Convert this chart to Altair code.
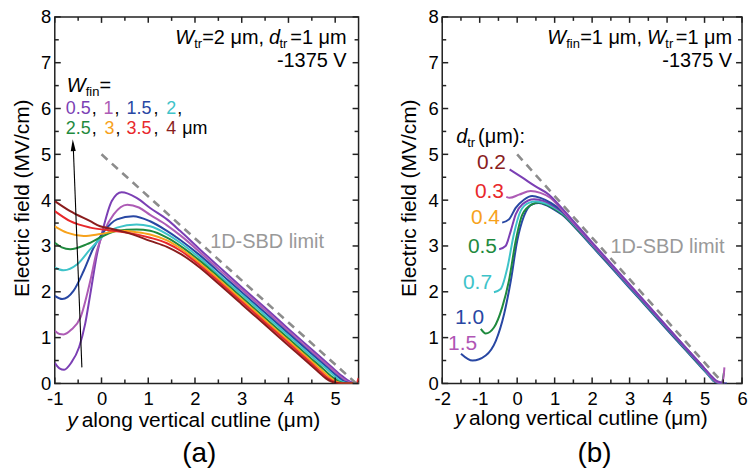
import altair as alt
import pandas as pd

FONT = "Liberation Sans"

# ---------------- Panel (a): W_fin sweep ----------------
wfin_labels = ["0.5", "1", "1.5", "2", "2.5", "3", "3.5", "4"]
wfin_colors = ["#7b3fb4", "#ad5bb5", "#2847a3", "#3ec3c9", "#1f8a3e", "#f7a21c", "#e8282b", "#8a1d1d"]

a05_x = [-1.0, -0.9, -0.8, -0.65, -0.48, -0.35, -0.24, -0.1, 0.04, 0.22, 0.43, 0.75, 1.04, 1.4, 1.68, 2.1, 2.5, 3.0, 3.5, 4.0, 4.5, 4.9, 5.15, 5.3, 5.45, 5.5]
a05_y = [0.45, 0.33, 0.30, 0.45, 0.79, 1.3, 1.95, 2.8, 3.4, 3.98, 4.17, 4.05, 3.83, 3.58, 3.33, 2.93, 2.56, 2.1, 1.65, 1.19, 0.74, 0.38, 0.16, 0.05, 0.0, 0.0]
a10_x = [-1.0, -0.9, -0.81, -0.65, -0.45, -0.24, -0.1, 0.04, 0.26, 0.55, 0.8, 1.04, 1.4, 1.7, 2.1, 2.5, 3.0, 3.5, 4.0, 4.5, 4.9, 5.12, 5.26, 5.42, 5.5]
a10_y = [1.15, 1.08, 1.07, 1.17, 1.44, 2.24, 2.89, 3.29, 3.69, 3.9, 3.84, 3.68, 3.45, 3.22, 2.87, 2.5, 2.05, 1.6, 1.14, 0.69, 0.34, 0.14, 0.04, 0.0, 0.0]
a15_x = [-1.0, -0.84, -0.6, -0.38, -0.17, 0.04, 0.33, 0.68, 1.04, 1.4, 1.7, 2.1, 2.5, 3.0, 3.5, 4.0, 4.5, 4.85, 5.08, 5.2, 5.38, 5.5]
a15_y = [1.91, 1.84, 2.02, 2.46, 2.96, 3.3, 3.58, 3.65, 3.54, 3.33, 3.12, 2.8, 2.44, 1.99, 1.54, 1.09, 0.64, 0.33, 0.13, 0.04, 0.0, 0.0]
a20_x = [-1.0, -0.81, -0.52, -0.24, 0.04, 0.33, 0.75, 1.04, 1.4, 1.7, 2.1, 2.5, 3.0, 3.5, 4.0, 4.5, 4.8, 5.02, 5.14, 5.32, 5.5]
a20_y = [2.53, 2.47, 2.6, 2.93, 3.22, 3.4, 3.47, 3.43, 3.26, 3.06, 2.74, 2.38, 1.94, 1.49, 1.04, 0.59, 0.33, 0.13, 0.04, 0.0, 0.0]
a25_x = [-1.0, -0.85, -0.67, -0.31, 0.04, 0.33, 0.75, 1.04, 1.4, 1.7, 2.1, 2.5, 3.0, 3.5, 4.0, 4.5, 4.75, 4.96, 5.08, 5.26, 5.5]
a25_y = [3.07, 2.97, 2.93, 3.04, 3.22, 3.33, 3.36, 3.33, 3.18, 2.99, 2.68, 2.33, 1.88, 1.43, 0.98, 0.53, 0.31, 0.12, 0.04, 0.0, 0.0]
a30_x = [-1.0, -0.74, -0.38, -0.03, 0.4, 0.75, 1.04, 1.4, 1.7, 2.1, 2.5, 3.0, 3.5, 4.0, 4.5, 4.7, 4.9, 5.02, 5.2, 5.5]
a30_y = [3.43, 3.29, 3.22, 3.26, 3.33, 3.3, 3.25, 3.12, 2.94, 2.63, 2.28, 1.83, 1.38, 0.93, 0.48, 0.3, 0.12, 0.04, 0.0, 0.0]
a35_x = [-1.0, -0.67, -0.24, 0.19, 0.61, 1.04, 1.4, 1.7, 2.1, 2.5, 3.0, 3.5, 4.0, 4.5, 4.65, 4.85, 4.97, 5.15, 5.45, 5.5]
a35_y = [3.76, 3.54, 3.4, 3.34, 3.28, 3.18, 3.06, 2.89, 2.58, 2.23, 1.78, 1.33, 0.88, 0.43, 0.29, 0.11, 0.04, 0.0, 0.0, 0.12]
a40_x = [-1.0, -0.67, -0.24, -0.03, 0.19, 0.61, 1.04, 1.4, 1.7, 2.1, 2.5, 3.0, 3.5, 4.0, 4.5, 4.62, 4.8, 4.92, 5.1, 5.5]
a40_y = [3.98, 3.76, 3.54, 3.43, 3.38, 3.27, 3.11, 2.98, 2.82, 2.53, 2.18, 1.73, 1.28, 0.83, 0.38, 0.27, 0.11, 0.04, 0.0, 0.0]

a_limit_x = [0.0, 5.45]
a_limit_y = [5.0, 0.0]
arrow_x = [-0.42, -0.602]
arrow_y = [0.35, 5.1]
arrow_head_x = [-0.61]
arrow_head_y = [5.2]

# ---------------- Panel (b): d_tr sweep ----------------
dtr_labels = ["0.2", "0.3", "0.4", "0.5", "0.7", "1.0", "1.5"]
dtr_colors = ["#8a1d1d", "#e8282b", "#f7a21c", "#1f8a3e", "#3ec3c9", "#2847a3", "#b056b5"]

b02_x = [-0.2, 0.14, 0.49, 0.85, 1.2, 1.6, 2.0, 2.5, 3.0, 3.5, 4.0, 4.5, 4.9, 5.15, 5.3, 5.45, 5.55]
b02_y = [4.67, 4.49, 4.3, 4.12, 3.82, 3.45, 3.08, 2.62, 2.16, 1.7, 1.24, 0.78, 0.42, 0.19, 0.07, 0.02, 0.0]
b03_x = [-0.29, -0.2, 0.05, 0.36, 0.62, 0.89, 1.2, 1.6, 2.0, 2.5, 3.0, 3.5, 4.0, 4.5, 4.9, 5.12, 5.28, 5.45, 5.5, 5.53]
b03_y = [4.07, 4.05, 4.12, 4.2, 4.16, 4.05, 3.78, 3.42, 3.05, 2.6, 2.14, 1.69, 1.23, 0.78, 0.42, 0.2, 0.06, 0.0, 0.1, 0.35]
b04_x = [-0.4, -0.22, -0.04, 0.18, 0.4, 0.62, 0.9, 1.2, 1.6, 2.0, 2.5, 3.0, 3.5, 4.0, 4.5, 4.9, 5.12, 5.27, 5.45]
b04_y = [3.51, 3.58, 3.83, 4.01, 4.09, 4.05, 3.94, 3.76, 3.41, 3.04, 2.59, 2.13, 1.68, 1.22, 0.77, 0.41, 0.2, 0.06, 0.0]
b05_x = [-0.48, -0.31, -0.17, -0.04, 0.14, 0.45, 0.72, 1.0, 1.2, 1.6, 2.0, 2.5, 3.0, 3.5, 4.0, 4.5, 4.9, 5.12, 5.26, 5.45]
b05_y = [2.93, 3.0, 3.33, 3.69, 3.91, 4.02, 3.98, 3.86, 3.74, 3.4, 3.03, 2.58, 2.12, 1.67, 1.21, 0.76, 0.4, 0.2, 0.06, 0.0]
b07_x = [-0.62, -0.44, -0.26, -0.09, 0.09, 0.31, 0.5, 0.75, 1.0, 1.2, 1.6, 2.0, 2.5, 3.0, 3.5, 4.0, 4.5, 4.9, 5.1, 5.25, 5.45]
b07_y = [1.99, 2.06, 2.53, 3.25, 3.76, 3.94, 3.97, 3.93, 3.83, 3.72, 3.39, 3.02, 2.57, 2.11, 1.66, 1.2, 0.75, 0.39, 0.2, 0.06, 0.0]
b10_x = [-0.97, -0.84, -0.62, -0.4, -0.22, -0.04, 0.14, 0.4, 0.55, 0.8, 1.0, 1.2, 1.6, 2.0, 2.5, 3.0, 3.5, 4.0, 4.5, 4.9, 5.1, 5.24, 5.45, 5.52]
b10_y = [1.19, 1.09, 1.22, 1.66, 2.24, 3.11, 3.69, 3.91, 3.95, 3.9, 3.81, 3.7, 3.37, 3.01, 2.56, 2.1, 1.65, 1.19, 0.74, 0.38, 0.2, 0.06, 0.0, 0.25]
b15_x = [-1.5, -1.19, -0.84, -0.57, -0.35, -0.17, 0.0, 0.18, 0.4, 0.58, 0.8, 1.0, 1.2, 1.6, 2.0, 2.5, 3.0, 3.5, 4.0, 4.5, 4.9, 5.1, 5.23, 5.4, 5.6]
b15_y = [0.65, 0.5, 0.61, 0.93, 1.51, 2.24, 3.11, 3.65, 3.91, 3.94, 3.88, 3.79, 3.68, 3.35, 2.99, 2.54, 2.08, 1.63, 1.17, 0.72, 0.36, 0.18, 0.06, 0.0, 0.0]

b_limit_x = [0.0, 5.5]
b_limit_y = [5.0, 0.0]

a_xlabels = [-1, 0, 1, 2, 3, 4, 5]
a_xminor = [-0.5, 0.5, 1.5, 2.5, 3.5, 4.5]
b_xlabels = [-2, -1, 0, 1, 2, 3, 4, 5, 6]
b_xminor = [-1.5, -0.5, 0.5, 1.5, 2.5, 3.5, 4.5, 5.5]
ylabels = [0, 1, 2, 3, 4, 5, 6, 7, 8]
yminor = [0.5, 1.5, 2.5, 3.5, 4.5, 5.5, 6.5, 7.5]

# ---------------- layout constants ----------------
H = 368
WA, WB = 305, 301
OA = (54, 15)     # page position of panel (a) plot origin
OB = (443, 15)    # page position of panel (b) plot origin
FRAME = "#222222"
YDOM = [0, 8]

dummy = pd.DataFrame({"d": [0]})


def series_df(items):
    rows = []
    for name, xv, yv in items:
        for x, y in zip(xv, yv):
            rows.append({"series": name, "x": x, "y": y})
    return pd.DataFrame(rows)


def txt(s, px, py, origin, size=20, color="black", style=None, align="left",
        baseline="alphabetic", angle=None):
    kw = dict(text=s, fontSize=size, color=color, align=align, baseline=baseline, font=FONT)
    if style:
        kw["fontStyle"] = style
    if angle is not None:
        kw["angle"] = angle
    return alt.Chart(dummy).mark_text(**kw).encode(
        x=alt.value(px - origin[0]), y=alt.value(py - origin[1]))


def make_axes(xvals):
    xa = alt.Axis(values=xvals, title=None, ticks=False, domain=False, grid=False,
                  labelFontSize=18.5, labelFont=FONT, labelColor="black", labelPadding=6,
                  labelFlush=False, labelOverlap=False,
                  labelExpr="replace(datum.label, '\u2212', '-')")
    ya = alt.Axis(values=ylabels, title=None, ticks=False, domain=False, grid=False,
                  labelFontSize=18.5, labelFont=FONT, labelColor="black", labelPadding=4,
                  labelFlush=False, labelOverlap=False)
    return xa, ya


def build_panel(df, names, colors, xdom, xlab, xmin, lim_x, lim_y, W, origin, texts, extra_data, box):
    xsc = alt.Scale(domain=xdom, nice=False, zero=False)
    ysc = alt.Scale(domain=YDOM, nice=False, zero=False)
    xa, ya = make_axes(xlab)

    def X(f):
        return alt.X(f, scale=xsc, axis=xa)

    def Y(f):
        return alt.Y(f, scale=ysc, axis=ya)

    lines = alt.Chart(df).mark_line(strokeWidth=2, interpolate="monotone", clip=True).encode(
        x=X("x:Q"), y=Y("y:Q"),
        color=alt.Color("series:N", scale=alt.Scale(domain=names, range=colors), legend=None),
        detail="series:N",
    )
    limit = alt.Chart(pd.DataFrame({"x": lim_x, "y": lim_y})).mark_line(
        color="#8c8c8c", strokeWidth=2.6, strokeDash=[8, 6], clip=True).encode(x=X("x:Q"), y=Y("y:Q"))
    bound = alt.Chart(dummy).mark_rect(opacity=0).encode(
        x=alt.value(box[0]), x2=alt.value(box[1]), y=alt.value(-origin[1]), y2=alt.value(H + 92))

    # inward ticks on all four sides, drawn as rules through the scales
    ypx = (YDOM[1] - YDOM[0]) / H
    xpx = (xdom[1] - xdom[0]) / W
    xt = []
    for vals, L in ((xlab, 6), (xmin, 4)):
        for v in vals:
            xt.append({"v": v, "a": YDOM[0], "b": YDOM[0] + L * ypx})
            xt.append({"v": v, "a": YDOM[1], "b": YDOM[1] - L * ypx})
    yt = []
    for vals, L in ((ylabels, 6), (yminor, 4)):
        for v in vals:
            yt.append({"v": v, "a": xdom[0], "b": xdom[0] + L * xpx})
            yt.append({"v": v, "a": xdom[1], "b": xdom[1] - L * xpx})
    xticks = alt.Chart(pd.DataFrame(xt)).mark_rule(color=FRAME, strokeWidth=1.5).encode(
        x=X("v:Q"), y=Y("a:Q"), y2="b:Q")
    yticks = alt.Chart(pd.DataFrame(yt)).mark_rule(color=FRAME, strokeWidth=1.5).encode(
        y=Y("v:Q"), x=X("a:Q"), x2="b:Q")

    extra = []
    if extra_data is not None:
        (ax, ay), (hx, hy) = extra_data
        extra.append(alt.Chart(pd.DataFrame({"x": ax, "y": ay})).mark_line(
            color="black", strokeWidth=1.1).encode(x=X("x:Q"), y=Y("y:Q")))
        extra.append(alt.Chart(pd.DataFrame({"x": hx, "y": hy})).mark_point(
            shape="M0,-1L0.42,1L-0.42,1Z", filled=True, color="black", opacity=1,
            size=144, angle=357.8).encode(x=X("x:Q"), y=Y("y:Q")))

    layers = [bound, lines, limit] + extra + [xticks, yticks] + texts
    return alt.layer(*layers).properties(width=W, height=H)


# ---------------- panel (a) ----------------
df_a = series_df([
    ("0.5", a05_x, a05_y), ("1", a10_x, a10_y), ("1.5", a15_x, a15_y), ("2", a20_x, a20_y),
    ("2.5", a25_x, a25_y), ("3", a30_x, a30_y), ("3.5", a35_x, a35_y), ("4", a40_x, a40_y),
])

C = dict(zip(wfin_labels, wfin_colors))
texts_a = [
    txt("W", 175, 42, OA, style="italic"),
    txt("tr", 194, 46, OA, size=13),
    txt("=2 \u03bcm,", 202, 42, OA),
    txt("d", 269, 42, OA, style="italic"),
    txt("tr", 279.5, 46, OA, size=13),
    txt("=1 \u03bcm", 347, 42, OA, align="right"),
    txt("-1375 V", 347, 65, OA, align="right"),
    txt("W", 66, 90, OA, style="italic"),
    txt("fin", 85, 94, OA, size=13),
    txt("=", 99, 90, OA),
    txt("0.5", 65, 112, OA, size=18, color=C["0.5"]),
    txt(",", 91, 112, OA, size=18),
    txt("1", 103, 112, OA, size=18, color=C["1"]),
    txt(",", 114, 112, OA, size=18),
    txt("1.5", 126, 112, OA, size=18, color=C["1.5"]),
    txt(",", 153, 112, OA, size=18),
    txt("2", 166, 112, OA, size=18, color=C["2"]),
    txt(",", 177, 112, OA, size=18),
    txt("2.5", 65, 133, OA, size=18, color=C["2.5"]),
    txt(",", 91, 133, OA, size=18),
    txt("3", 104, 133, OA, size=18, color=C["3"]),
    txt(",", 115, 133, OA, size=18),
    txt("3.5", 126, 133, OA, size=18, color=C["3.5"]),
    txt(",", 153, 133, OA, size=18),
    txt("4", 166, 133, OA, size=18, color=C["4"]),
    txt("\u03bcm", 182, 133, OA, size=18),
    txt("1D-SBD limit", 210, 247, OA, color="#999999"),
    txt("Electric field (MV/cm)", 22, 197, OA, size=21, align="center", baseline="middle", angle=270),
    txt("y", 77, 427, OA, size=21, style="italic", align="right"),
    txt("along vertical cutline (\u03bcm)", 81, 427, OA, size=21),
    txt("(a)", 199, 462, OA, size=28, align="center"),
]

panel_a = build_panel(df_a, wfin_labels, wfin_colors, [-1, 5.5], a_xlabels, a_xminor,
                      a_limit_x, a_limit_y, WA, OA, texts_a,
                      ((arrow_x, arrow_y), (arrow_head_x, arrow_head_y)),
                      (-OA[0], WA))

# ---------------- panel (b) ----------------
df_b = series_df([
    ("1.5", b15_x, b15_y), ("1.0", b10_x, b10_y), ("0.7", b07_x, b07_y), ("0.5", b05_x, b05_y),
    ("0.4", b04_x, b04_y), ("0.3", b03_x, b03_y), ("0.2", b02_x, b02_y),
])
D = dict(zip(dtr_labels, dtr_colors))
texts_b = [
    txt("W", 548.5, 42, OB, style="italic"),
    txt("fin", 567.5, 46, OB, size=13),
    txt("=1 \u03bcm,", 581.5, 42, OB),
    txt("W", 648.5, 42, OB, style="italic"),
    txt("tr", 667, 46, OB, size=13),
    txt("=1 \u03bcm", 734, 42, OB, align="right"),
    txt("-1375 V", 734, 65, OB, align="right"),
    txt("d", 457, 142, OB, style="italic"),
    txt("tr", 468, 146, OB, size=13),
    txt("(\u03bcm):", 479, 142, OB),
    txt("0.2", 507, 168, OB, size=21, color=D["0.2"], align="right"),
    txt("0.3", 505, 197, OB, size=21, color=D["0.3"], align="right"),
    txt("0.4", 501, 223, OB, size=21, color=D["0.4"], align="right"),
    txt("0.5", 498, 252, OB, size=21, color=D["0.5"], align="right"),
    txt("0.7", 493, 288, OB, size=21, color=D["0.7"], align="right"),
    txt("1.0", 485, 323, OB, size=21, color=D["1.0"], align="right"),
    txt("1.5", 478, 349, OB, size=21, color=D["1.5"], align="right"),
    txt("1D-SBD limit", 612, 252, OB, color="#999999"),
    txt("Electric field (MV/cm)", 410.5, 197, OB, size=21, align="center", baseline="middle", angle=270),
    txt("y", 466, 425, OB, size=21, style="italic", align="right"),
    txt("along vertical cutline (\u03bcm)", 470, 425, OB, size=21),
    txt("(b)", 596, 462, OB, size=28, align="center"),
]

panel_b = build_panel(df_b, dtr_labels, dtr_colors, [-2, 6], b_xlabels, b_xminor,
                      b_limit_x, b_limit_y, WB, OB, texts_b, None, (0, WB + 4))

chart = alt.hconcat(panel_a, panel_b, spacing=OB[0] - OA[0] - WA, bounds="flush").properties(
    padding=0
).configure_view(stroke=FRAME, strokeWidth=1.5)

chart.save("out.html", embed_options={"renderer": "svg", "actions": False})
